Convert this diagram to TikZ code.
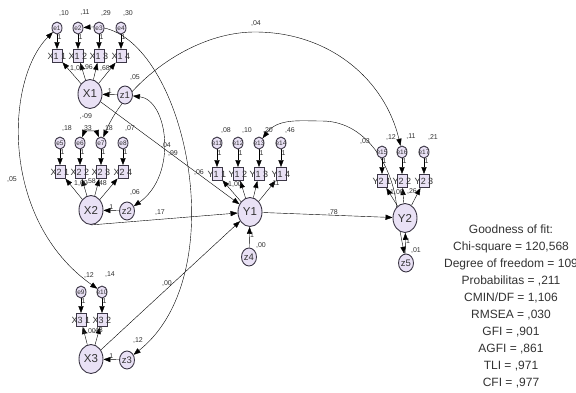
\documentclass[tikz,border=0pt]{standalone}
\usepackage{fontspec}
\setmainfont{Liberation Sans}
\usetikzlibrary{arrows.meta,shapes.geometric,backgrounds}
\definecolor{latfill}{RGB}{233,225,245}
\definecolor{latline}{RGB}{60,55,70}
\definecolor{ink}{RGB}{50,50,50}

\begin{document}
\begin{tikzpicture}[x=1pt, y=-1pt, line width=0.85pt, >={Triangle[length=7pt,width=5.2pt]},
  lat/.style={ellipse, draw=latline, fill=latfill, line width=0.9pt, inner sep=0pt,
    minimum width=24pt, minimum height=29pt, text=ink, font=\fontsize{11.5}{11.5}\selectfont},
  res/.style={lat, minimum width=15pt, minimum height=18pt, font=\fontsize{9.5}{9.5}\selectfont},
  err/.style={lat, minimum width=10pt, minimum height=12pt, label={[etxt]center:#1}},
  ind/.style={rectangle, draw=latline, fill=latfill, line width=0.9pt, inner sep=0pt,
    minimum width=10pt, minimum height=13pt, label={[itxt]center:#1}},
  etxt/.style={font=\fontsize{6.5}{6.5}\selectfont, text=ink, inner sep=0pt},
  itxt/.style={font=\fontsize{9}{9}\selectfont, text=ink, inner sep=0pt},
  lbl/.style={font=\fontsize{7}{7}\selectfont, text=ink, inner sep=0.5pt}]
  \useasboundingbox (0,0) rectangle (576,392);

  % latent variables
  \node[lat] (X1) at (90,94) {X1};
  \node[lat] (X2) at (91,210) {X2};
  \node[lat] (X3) at (91,359) {X3};
  \node[lat] (Y1) at (250,212) {Y1};
  \node[lat] (Y2) at (405,218) {Y2};
  % disturbances
  \foreach \n/\x/\y in {1/125/95, 2/127/211, 3/127/360, 4/249/257, 5/406/263}
    \node[res] (z\n) at (\x,\y) {z\n};
  \node[lbl] (vz1) at (135,77) {,05};
  \node[lbl] (vz2) at (135,192) {,06};
  \node[lbl] (vz3) at (138,340) {,12};
  \node[lbl] (vz4) at (261,245) {,00};
  \node[lbl] (vz5) at (416,250) {,01};
  \begin{pgfonlayer}{background}
    \foreach \z/\l in {z1/X1, z2/X2, z3/X3}
      \draw[->] (\z) -- node[lbl, above] {1} (\l);
    \draw[->] (z4) -- node[lbl, right, pos=.6] {1} (Y1);
    \draw[->] (z5) -- node[lbl, right, pos=.6] {1} (Y2);
  \end{pgfonlayer}

  % X1 indicators
  \foreach \n/\x/\v in {1/57/{,10},2/78/{,11},3/99/{,29},4/121/{,30}} {
    \node[err=e\n] (e\n) at (\x,28) {};
    \node[ind={X1 \n}] (x1\n) at (\x,56) {};
    \node[lbl] (ve\n) at (\x+7,13) {\v};
    \begin{pgfonlayer}{background}
      \draw[->] (e\n) -- node[lbl, right, pos=.2] {1} (x1\n);
      \draw[->] (X1) -- (x1\n);
    \end{pgfonlayer}
  }
  % X2 indicators
  \foreach \n/\e/\x/\v in {1/5/60/{,18},2/6/80/{,33},3/7/101/{,18},4/8/123/{,07}} {
    \node[err=e\e] (e\e) at (\x,143) {};
    \node[ind={X2 \n}] (x2\n) at (\x,172) {};
    \node[lbl] (ve\e) at (\x+7,128) {\v};
    \begin{pgfonlayer}{background}
      \draw[->] (e\e) -- node[lbl, right, pos=.2] {1} (x2\n);
      \draw[->] (X2) -- (x2\n);
    \end{pgfonlayer}
  }
  % X3 indicators
  \foreach \n/\e/\x/\v in {1/9/81/{,12},2/10/102/{,14}} {
    \node[err=e\e] (e\e) at (\x,292) {};
    \node[ind={X3 \n}] (x3\n) at (\x,320) {};
    \node[lbl] (ve\e) at (\x+8,275) {\v};
    \begin{pgfonlayer}{background}
      \draw[->] (e\e) -- node[lbl, right, pos=.2] {1} (x3\n);
      \draw[->] (X3) -- (x3\n);
    \end{pgfonlayer}
  }
  % Y1 indicators
  \foreach \n/\e/\x/\v in {1/11/217/{,08},2/12/238/{,10},3/13/259/{,20},4/14/281/{,46}} {
    \node[err=e\e] (e\e) at (\x,143) {};
    \node[ind={Y1 \n}] (y1\n) at (\x,174) {};
    \node[lbl] (ve\e) at (\x+9,130) {\v};
    \begin{pgfonlayer}{background}
      \draw[->] (e\e) -- node[lbl, right, pos=.2] {1} (y1\n);
      \draw[->] (Y1) -- (y1\n);
    \end{pgfonlayer}
  }
  % Y2 indicators
  \foreach \n/\e/\x/\v in {1/15/382/{,12},2/16/402/{,11},3/17/424/{,21}} {
    \node[err=e\e] (e\e) at (\x,152) {};
    \node[ind={Y2 \n}] (y2\n) at (\x,181) {};
    \node[lbl] (ve\e) at (\x+9,137) {\v};
    \begin{pgfonlayer}{background}
      \draw[->] (e\e) -- node[lbl, right, pos=.2] {1} (y2\n);
      \draw[->] (Y2) -- (y2\n);
    \end{pgfonlayer}
  }

  % loadings
  \node[lbl] (l11) at (77,68) {1,00};
  \node[lbl] (l12) at (88,67) {,96};
  \node[lbl] (l14) at (105,68) {,68};
  \node[lbl] (l21) at (81,183) {1,00};
  \node[lbl] (l22) at (91,181) {,58};
  \node[lbl] (l24) at (102,183) {,48};
  \node[lbl] (l31) at (89,331) {1,00};
  \node[lbl] (l32) at (98,330) {,48};
  \node[lbl] (l41) at (235,184) {1,00};
  \node[lbl] (l44) at (275,184) {,11};
  \node[lbl] (l51) at (397,192) {1,00};
  \node[lbl] (l53) at (412,191) {,26};

  % structural paths and covariances
  \begin{pgfonlayer}{background}
    \draw[->] (X1) -- (Y1);
    \draw[->] (X2.south) -- (Y1);
    \draw[->] (X3) -- (Y1);
    \draw[->] (Y1) -- (Y2);
    \draw[<->] (e6) to[bend left=70] (e7);
    \draw[<->] (e1) .. controls (5,80) and (0,220) .. (e10);
    \draw[<->] (e2) .. controls (180,20) and (240,270) .. (z3);
    \draw[<->] (z1) .. controls (168,100) and (178,175) .. (z2);
    \draw[<->] (e7) .. controls (125,85) and (190,32) .. (255,32)
      .. controls (330,32) and (385,80) .. (e16);
    \draw[<->] (e13) .. controls (278,118) and (300,121) .. (322,121)
      .. controls (370,121) and (397,175) .. (397,215) -- (z5);
  \end{pgfonlayer}
  \node[lbl] (c1) at (12,179) {,05};
  \node[lbl] (c2) at (256,23) {,04};
  \node[lbl] (c3) at (86,116) {,-09};
  \node[lbl] (c4) at (166,145) {,04};
  \node[lbl] (c5) at (173,153) {,99};
  \node[lbl] (c6) at (199,172) {,06};
  \node[lbl] (c7) at (160,213) {,17};
  \node[lbl] (c8) at (167,283) {,00};
  \node[lbl] (c9) at (333,212) {,78};
  \node[lbl] (c10) at (365,141) {,03};

  % fit indices
  \node[font=\fontsize{12}{17}\selectfont, text=ink, align=center] (gof) at (511,306.5)
    {Goodness of fit:\\ Chi-square = 120,568\\ Degree of freedom = 109\\
     Probabilitas = ,211\\ CMIN/DF = 1,106\\ RMSEA = ,030\\ GFI = ,901\\
     AGFI = ,861\\ TLI = ,971\\ CFI = ,977};
\end{tikzpicture}
\end{document}
